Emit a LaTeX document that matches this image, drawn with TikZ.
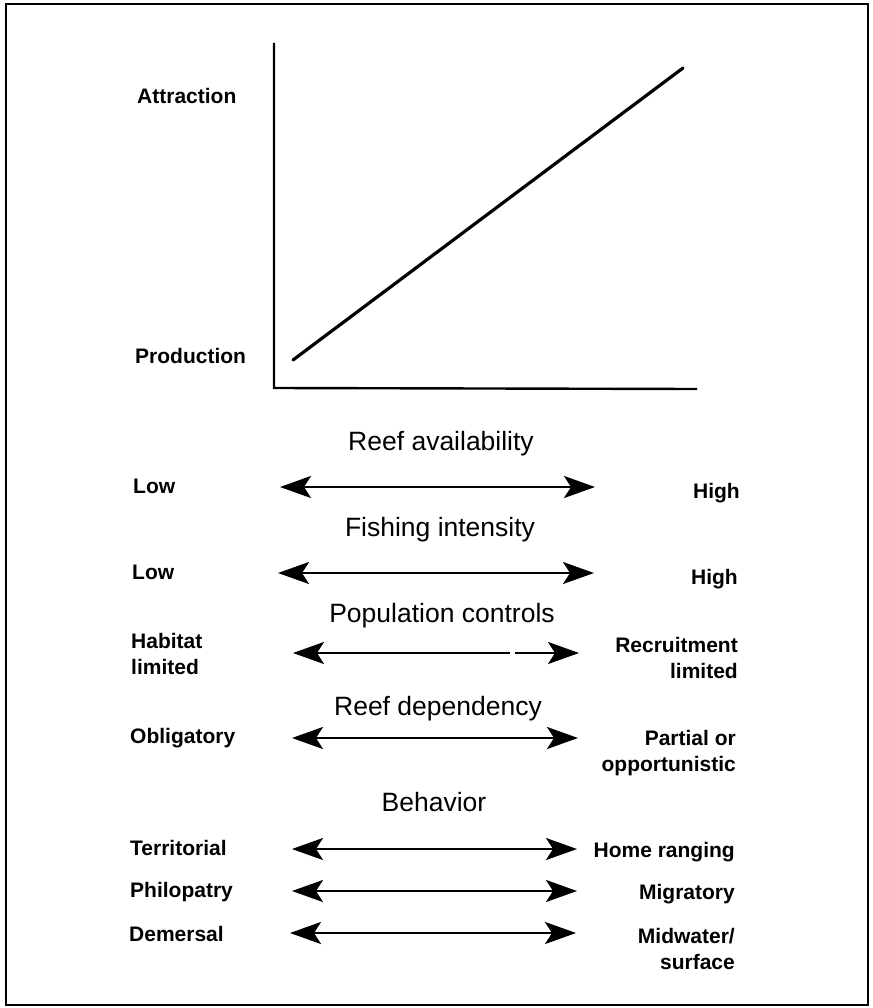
\documentclass[tikz,border=0pt]{standalone}
\usepackage{fontspec}
\setmainfont{Liberation Sans}
\usetikzlibrary{arrows.meta}
\begin{document}
\begin{tikzpicture}[x=1pt,y=-1pt,
  lab/.style={font=\fontsize{21}{25.5}\selectfont\bfseries, inner sep=0pt},
  labL/.style={lab, anchor=base west, align=left},
  labR/.style={lab, anchor=base east, align=right},
  head/.style={font=\fontsize{26.5}{30}\selectfont, inner sep=0pt, anchor=base},
  frame/.style={line width=1.4pt},
  axis/.style={line width=2.4pt},
  trend/.style={line width=3.2pt, line cap=round},
  dbl/.style={line width=2.5pt, {Stealth[length=31pt,width=22pt,inset=7pt]}-{Stealth[length=31pt,width=22pt,inset=7pt]}},
  lft/.style={line width=2.5pt, {Stealth[length=31pt,width=22pt,inset=7pt]}-},
  rgt/.style={line width=2.5pt, -{Stealth[length=31pt,width=22pt,inset=7pt]}},
]
\useasboundingbox (0,0) rectangle (872,1008);
\draw[frame] (6,4) rectangle (868,1005);

% graph
\coordinate (origin) at (274,388);
\coordinate (ytop) at (274,43);
\coordinate (xend) at (697,389);
\coordinate (tstart) at (293,360);
\coordinate (tend) at (683,68);
\draw[axis] (ytop) -- (origin) -- (xend);
\draw[trend] (tstart) -- (tend);
\node[labL] (attr) at (137,104) {Attraction};
\node[labL] (prod) at (135,363) {Production};

% Reef availability
\node[head] (h1) at (441,450) {Reef availability};
\node[labL] (l1) at (133,493) {Low};
\node[labR] (r1) at (740,498) {High};
\coordinate (a1l) at (280,487);
\coordinate (a1r) at (595,487);
\draw[dbl] (a1l) -- (a1r);

% Fishing intensity
\node[head] (h2) at (440,536) {Fishing intensity};
\node[labL] (l2) at (132,579) {Low};
\node[labR] (r2) at (738,584) {High};
\coordinate (a2l) at (278,573);
\coordinate (a2r) at (594,573);
\draw[dbl] (a2l) -- (a2r);

% Population controls
\node[head] (h3) at (442,622) {Population controls};
\node[labL] (l3) at (131,674) {Habitat\\limited};
\node[labR] (r3) at (738,678) {Recruitment\\limited};
\coordinate (a3l) at (293,653);
\coordinate (g3a) at (510,653);
\coordinate (g3b) at (515,653);
\coordinate (a3r) at (579,653);
\draw[lft] (a3l) -- (g3a);
\draw[rgt] (g3b) -- (a3r);

% Reef dependency
\node[head] (h4) at (438,715) {Reef dependency};
\node[labL] (l4) at (130,743) {Obligatory};
\node[labR] (r4) at (736,771) {Partial or\\opportunistic};
\coordinate (a4l) at (292,738);
\coordinate (a4r) at (578,738);
\draw[dbl] (a4l) -- (a4r);

% Behavior
\node[head] (h5) at (434,811) {Behavior};
\node[labL] (l5) at (130,855) {Territorial};
\node[labR] (r5) at (735,857) {Home ranging};
\coordinate (a5l) at (292,849);
\coordinate (a5r) at (577,849);
\draw[dbl] (a5l) -- (a5r);

\node[labL] (l6) at (130,897) {Philopatry};
\node[labR] (r6) at (735,899) {Migratory};
\coordinate (a6l) at (292,891);
\coordinate (a6r) at (577,891);
\draw[dbl] (a6l) -- (a6r);

\node[labL] (l7) at (129,941) {Demersal};
\node[labR] (r7) at (735,969) {Midwater/\\surface};
\coordinate (a7l) at (290,933);
\coordinate (a7r) at (576,933);
\draw[dbl] (a7l) -- (a7r);
\end{tikzpicture}
\end{document}
